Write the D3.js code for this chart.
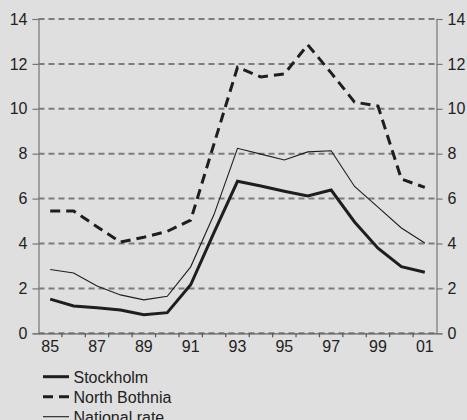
<!DOCTYPE html>
<html><head><meta charset="utf-8">
<script src="https://cdn.jsdelivr.net/npm/d3@7"></script>
<style>html,body{margin:0;padding:0;background:#dfdfdf;}svg{display:block;}</style>
</head><body><div id="chart"></div>
<script>
const years = ["85","86","87","88","89","90","91","92","93","94","95","96","97","98","99","00","01"];
const xTickLabels = ["85","87","89","91","93","95","97","99","01"];
const yTicks = [0,2,4,6,8,10,12,14];
const stockholm = [1.52,1.22,1.14,1.04,0.83,0.92,2.16,4.5,6.77,6.56,6.33,6.12,6.38,4.96,3.79,2.97,2.72];
const northBothnia = [5.45,5.45,4.75,4.06,4.28,4.54,5.04,8.45,11.85,11.42,11.55,12.85,11.6,10.3,10.12,6.87,6.5];
const national = [2.84,2.69,2.11,1.71,1.49,1.65,2.96,5.3,8.24,7.98,7.72,8.08,8.13,6.54,5.62,4.69,4.02];
const seriesNames = ["Stockholm","North Bothnia","National rate"];

(function(){
const W = 467, H = 420;
const svg = d3.select("#chart").append("svg").attr("width", W).attr("height", H);
svg.append("rect").attr("width", W).attr("height", H).attr("fill", "#dfdfdf");

const mLeft = 38.5, mRight = 436.5, mTop = 19, mBottom = 333.3;
const x = d3.scaleBand().domain(years).range([mLeft, mRight]).padding(0);
const y = d3.scaleLinear().domain([0, 14]).range([mBottom, mTop]);
const cx = d => x(d) + x.bandwidth() / 2;
const font = "Liberation Sans, Arial, sans-serif";

// gridlines
svg.append("g").selectAll("line").data(yTicks).join("line")
  .attr("x1", mLeft).attr("x2", mRight)
  .attr("y1", d => y(d)).attr("y2", d => y(d))
  .attr("stroke", "#7c7c7c").attr("stroke-width", 2).attr("stroke-dasharray", "6,4");

const ax = svg.append("g").attr("transform", `translate(${mLeft},0)`)
  .call(d3.axisLeft(y).tickValues(yTicks).tickSize(6).tickPadding(5));
const ax2 = svg.append("g").attr("transform", `translate(${mRight},0)`)
  .call(d3.axisRight(y).tickValues(yTicks).tickSize(6).tickPadding(5));
[ax, ax2].forEach(g => {
  g.select(".domain").attr("stroke", "#777").attr("stroke-width", 1.2);
  g.selectAll(".tick line").attr("stroke", "#777").attr("stroke-width", 1.2);
  g.selectAll("text").attr("font-family", font).attr("font-size", 16).attr("fill", "#222");
});

const bx = svg.append("g").attr("transform", `translate(0,${mBottom})`)
  .call(d3.axisBottom(x).tickSize(0).tickPadding(7).tickFormat(d => xTickLabels.includes(d) ? d : ""));
bx.select(".domain").attr("stroke", "#666").attr("stroke-width", 1.2);
bx.selectAll("text").attr("font-family", font).attr("font-size", 16).attr("fill", "#222");
svg.append("g").selectAll("line").data(years.slice(1)).join("line")
  .attr("x1", d => x(d)).attr("x2", d => x(d))
  .attr("y1", mBottom).attr("y2", mBottom + 4)
  .attr("stroke", "#555").attr("stroke-width", 1.2);

const line = d3.line().x((d, i) => cx(years[i])).y(d => y(d));
svg.append("path").datum(national).attr("d", line).attr("fill", "none")
  .attr("stroke", "#1e1e1e").attr("stroke-width", 1.1);
svg.append("path").datum(northBothnia).attr("d", line).attr("fill", "none")
  .attr("stroke", "#1e1e1e").attr("stroke-width", 3).attr("stroke-dasharray", "10,6");
svg.append("path").datum(stockholm).attr("d", line).attr("fill", "none")
  .attr("stroke", "#1e1e1e").attr("stroke-width", 3);

const styles = [{w: 3, dash: null},{w: 3, dash: "10,6"},{w: 1.1, dash: null}];
const lg = svg.append("g");
seriesNames.forEach((n, i) => {
  const yy = 376.7 + i * 20;
  lg.append("line").attr("x1", 43).attr("x2", 69).attr("y1", yy).attr("y2", yy)
    .attr("stroke", "#1e1e1e").attr("stroke-width", styles[i].w)
    .attr("stroke-dasharray", styles[i].dash);
  lg.append("text").attr("x", 73.5).attr("y", yy + 6).text(n)
    .attr("font-family", font).attr("font-size", 16).attr("fill", "#222");
});
})();
</script></body></html>
